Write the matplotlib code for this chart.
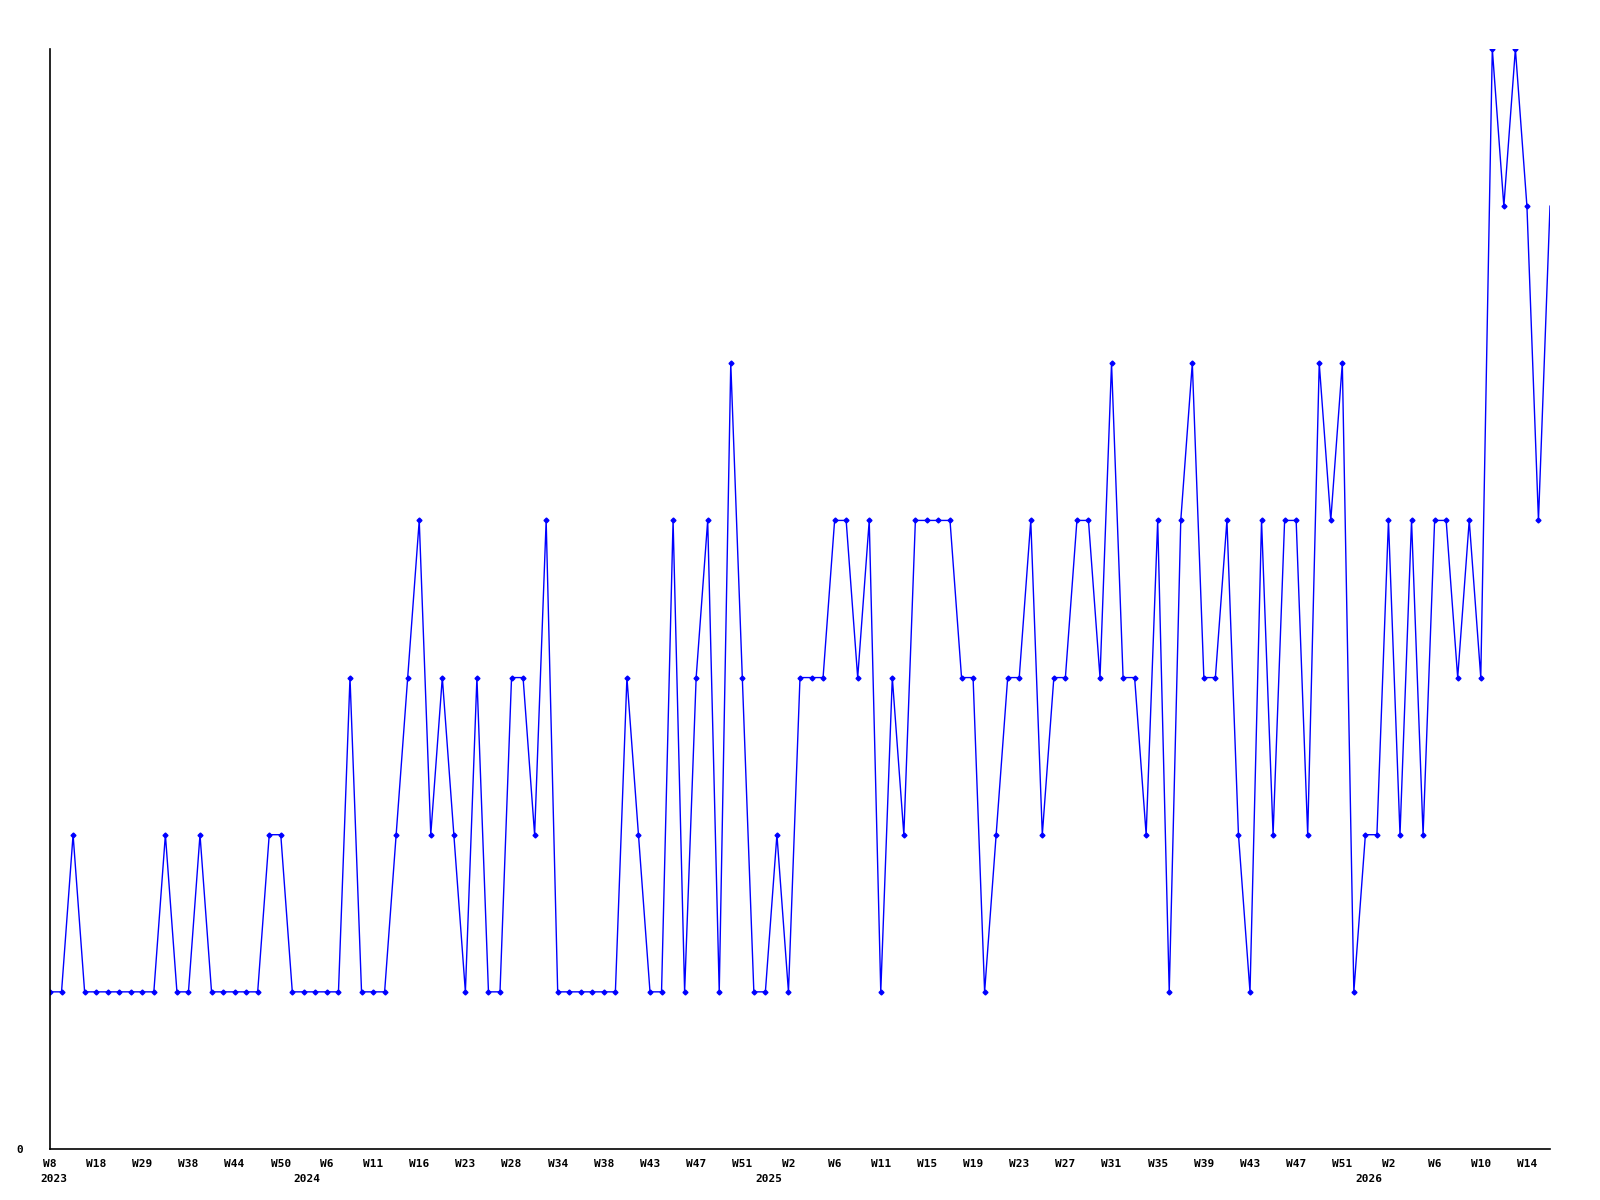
import matplotlib
matplotlib.use("Agg")
import matplotlib.pyplot as plt
import matplotlib.transforms as mtransforms

# weekly values, one point per week with data
values = [
    1, 1, 2, 1, 1, 1, 1, 1, 1, 1, 2, 1, 1, 2, 1, 1, 1, 1, 1, 2,
    2, 1, 1, 1, 1, 1, 3, 1, 1, 1, 2, 3, 4, 2, 3, 2, 1, 3, 1, 1,
    3, 3, 2, 4, 1, 1, 1, 1, 1, 1, 3, 2, 1, 1, 4, 1, 3, 4, 1, 5,
    3, 1, 1, 2, 1, 3, 3, 3, 4, 4, 3, 4, 1, 3, 2, 4, 4, 4, 4, 3,
    3, 1, 2, 3, 3, 4, 2, 3, 3, 4, 4, 3, 5, 3, 3, 2, 4, 1, 4, 5,
    3, 3, 4, 2, 1, 4, 2, 4, 4, 2, 5, 4, 5, 1, 2, 2, 4, 2, 4, 2,
    4, 4, 3, 4, 3, 7, 6, 7, 6, 4, 6,
]

week_labels = [
    "W8", "W18", "W29", "W38", "W44", "W50", "W6", "W11", "W16", "W23",
    "W28", "W34", "W38", "W43", "W47", "W51", "W2", "W6", "W11", "W15",
    "W19", "W23", "W27", "W31", "W35", "W39", "W43", "W47", "W51", "W2",
    "W6", "W10", "W14",
]
week_step = 4

years = ["2023", "2024", "2025", "2026"]
year_pos = [0.3, 22.3, 62.3, 114.3]

fig = plt.figure(figsize=(16, 12), dpi=100)
ax = fig.add_axes([50 / 1600, 1 - 1149 / 1200, 1500 / 1600, 1100 / 1200])

x = list(range(len(values)))
# the last point is drawn without its marker, like the original
ax.plot(x, values, color="#0000ff", linewidth=1.0, marker="D",
        markersize=2.5, markerfacecolor="#0000ff", markeredgecolor="#0000ff",
        markevery=list(range(len(values) - 1)))

ax.set_xlim(0, len(values) - 1)
ax.set_ylim(0, 7)

for s in ["top", "right"]:
    ax.spines[s].set_visible(False)
for s in ["left", "bottom"]:
    ax.spines[s].set_color("black")
    ax.spines[s].set_linewidth(1.2)

font = dict(family="DejaVu Sans Mono", weight="bold", size=8)

ax.set_xticks(range(0, len(values), week_step)[:len(week_labels)])
ax.set_xticklabels(week_labels, **font)
ax.set_yticks([0])
ax.set_yticklabels(["0"], **font)
ax.tick_params(axis="x", length=0, pad=7)
ax.tick_params(axis="y", length=0, pad=19)

trans = mtransforms.blended_transform_factory(ax.transData, ax.transAxes)
for yr, pos in zip(years, year_pos):
    ax.text(pos, -0.0275, yr, transform=trans, ha="center", va="center",
            **font)

fig.savefig("out.png", dpi=100)
